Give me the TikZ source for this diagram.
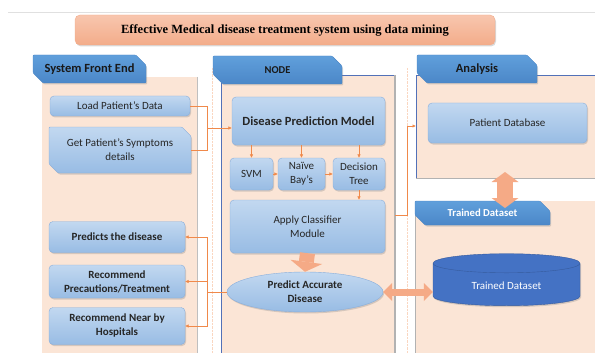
\documentclass[tikz,border=0pt]{standalone}
\usepackage{fontspec}
\setmainfont{Carlito}
\newfontfamily\titlefont{Liberation Serif}
\usepackage{tikz}
\usetikzlibrary{calc,positioning,arrows.meta,shapes.geometric,shapes.misc,shadows}

\definecolor{peach}{HTML}{FBE5D6}
\definecolor{boxtop}{HTML}{C2D8F0}
\definecolor{boxbot}{HTML}{98BCE4}
\definecolor{boxline}{HTML}{88AEDC}
\definecolor{tabtop}{HTML}{609FDB}
\definecolor{tabbot}{HTML}{4B87C8}
\definecolor{panelline}{HTML}{5271B8}
\definecolor{linkorange}{HTML}{F0894A}
\definecolor{fatorange}{HTML}{F5AA86}
\definecolor{dbblue}{HTML}{4472C4}
\definecolor{titletop}{HTML}{F8C6AE}
\definecolor{titlebot}{HTML}{F3AC8A}
\definecolor{inktext}{HTML}{262626}

\begin{document}
\begin{tikzpicture}[x=1pt,y=-1pt,
    font=\fontsize{11}{14}\selectfont,
    shade/.style={drop shadow={shadow xshift=1pt,shadow yshift=-1.5pt,opacity=.3}},
    box/.style={rectangle, rounded corners=4pt, draw=boxline, top color=boxtop, bottom color=boxbot,
      text=inktext, align=center, inner sep=2pt, shade},
    boldbox/.style={box, font=\bfseries\fontsize{11}{14}\selectfont},
    snipbox/.style={box, chamfered rectangle, chamfered rectangle corners={north east,south west},
      chamfered rectangle xsep=6pt, rounded corners=1pt},
    tab/.style={chamfered rectangle, chamfered rectangle corners={north east,south west},
      chamfered rectangle xsep=7pt, rounded corners=1pt, top color=tabtop, bottom color=tabbot,
      draw=tabbot, text=black!90, minimum height=28pt, font=\bfseries\fontsize{12.5}{14}\selectfont, shade},
    link/.style={linkorange, line width=0.6pt, >={Latex[length=3.5pt,width=3.5pt]}},
    fat/.style={fatorange, line cap=butt}
  ]
  \useasboundingbox (0,0) rectangle (595,353);
  \draw[black!12] (8,12) -- (595,12);

  % panels
  \fill[peach] (42,77) rectangle (197,353);
  \draw[black!25, line width=0.8pt] (197.5,77) -- (197.5,353);
  \fill[peach] (221,75) rectangle (394,353);
  \draw[panelline, line width=0.7pt] (221,353) -- (221,75) -- (394,75);
  \draw[black!30, line width=1.2pt] (395,75) -- (395,353);
  \fill[peach] (416,75) rectangle (595,178);
  \draw[panelline, line width=0.7pt] (416,178) -- (416,75) -- (595,75);
  \draw[black!30, line width=1pt] (416,178.5) -- (595,178.5);
  \fill[peach] (415,201) rectangle (595,353);
  \draw[black!30, line width=1pt] (415,210) -- (415,353);
  \draw[linkorange!35, densely dotted] (212,68) -- (212,353);
  \draw[linkorange!35, densely dotted] (407,68) -- (407,353);

  % title and headers
  \node[rectangle, rounded corners=5pt, draw=titlebot, top color=titletop, bottom color=titlebot,
    minimum width=420pt, minimum height=30pt, shade,
    font=\titlefont\bfseries\fontsize{12.5}{14}\selectfont] (title) at (285,30)
    {Effective Medical disease treatment system using data mining};
  \node[tab, minimum width=113pt] (fronttab) at (89.5,69) {System Front End};
  \node[tab, minimum width=129pt, font=\bfseries\fontsize{10.5}{12}\selectfont] (nodetab) at (277.5,70) {NODE};
  \node[tab, minimum width=120pt] (anatab) at (477,69) {Analysis};
  \node[tab, minimum width=135pt, minimum height=24pt, text=white,
    font=\bfseries\fontsize{10.7}{12}\selectfont] (traintab) at (482.5,213) {Trained Dataset};

  % front end
  \node[box, minimum width=140pt, minimum height=20pt] (load) at (120,106) {Load Patient’s Data};
  \node[snipbox, minimum width=142pt, minimum height=46pt] (symp) at (120,150) {Get Patient’s Symptoms\\details};
  \node[boldbox, minimum width=136pt, minimum height=31pt] (predicts) at (117,237) {Predicts the disease};
  \node[boldbox, minimum width=136pt, minimum height=33pt] (precaution) at (117,281.5) {Recommend\\Precautions/Treatment};
  \node[boldbox, minimum width=136pt, minimum height=37pt] (hospital) at (117,326) {Recommend Near by\\Hospitals};

  % node
  \node[box, minimum width=153pt, minimum height=48pt, font=\bfseries\fontsize{12.5}{15}\selectfont] (dpm) at (308.5,121) {Disease Prediction Model};
  \node[box, minimum width=43pt, minimum height=32pt] (svm) at (251.5,174) {SVM};
  \node[box, minimum width=47pt, minimum height=32pt] (naive) at (301.5,174) {Naïve\\Bay’s};
  \node[box, minimum width=52pt, minimum height=32pt] (dtree) at (359,174) {Decision\\Tree};
  \node[box, minimum width=155pt, minimum height=53pt] (apply) at (307.5,226.5) {Apply Classifier\\Module};
  \node[boldbox, ellipse, minimum width=156pt, minimum height=40pt] (pred) at (305,292) {Predict Accurate\\Disease};

  % analysis
  \node[box, minimum width=159pt, minimum height=40pt] (patdb) at (507.5,123) {Patient Database};
  \node[cylinder, shape border rotate=90, aspect=0.25, draw=dbblue!80!black, fill=dbblue, text=white,
    minimum width=147pt, minimum height=52pt, shade] (trained) at (506.5,286) {Trained Dataset};

  % connectors
  \coordinate (jin) at (207,128);
  \coordinate (jout) at (207,292);
  \coordinate (nodeR) at (395,215);
  \coordinate (anaL) at (416,126);
  \coordinate (upbot) at (505,172);
  \coordinate (lowtop) at (505,208);
  \draw[link] (load.east) -| (jin);
  \draw[link] (symp.east) -| (jin);
  \draw[link,->] (jin) -- (jin -| dpm.west);
  \draw[link,->] (dpm.south -| svm.north) -- (svm.north);
  \draw[link,->] (dpm.south -| naive.north) -- (naive.north);
  \draw[link,->] (dpm.south -| dtree.north) -- (dtree.north);
  \draw[link,->] (svm) -- (naive);
  \draw[link,->] (naive) -- (dtree);
  \draw[link,->] (dtree) -- (dtree |- apply.north);
  \draw[link] (pred.west) -- (jout);
  \draw[link,->] (jout) |- (predicts.east);
  \draw[link,->] (jout) |- (precaution.east);
  \draw[link,->] (jout) |- (hospital.east);
  \draw[link,->] (nodeR) -- ++(12,0) |- (anaL);
  \draw[fat, line width=15pt, -{Triangle[width=32pt,length=10pt,line width=0pt]}] (apply.south) -- (pred.north);
  \draw[fat, line width=7pt, {Triangle[width=18pt,length=9pt,line width=0pt]}-{Triangle[width=18pt,length=9pt,line width=0pt]}] (pred.east) -- (pred.east -| trained.west);
  \draw[fat, line width=16pt, {Triangle[width=27pt,length=10pt,line width=0pt]}-{Triangle[width=27pt,length=10pt,line width=0pt]}] (upbot) -- (lowtop);
\end{tikzpicture}
\end{document}
